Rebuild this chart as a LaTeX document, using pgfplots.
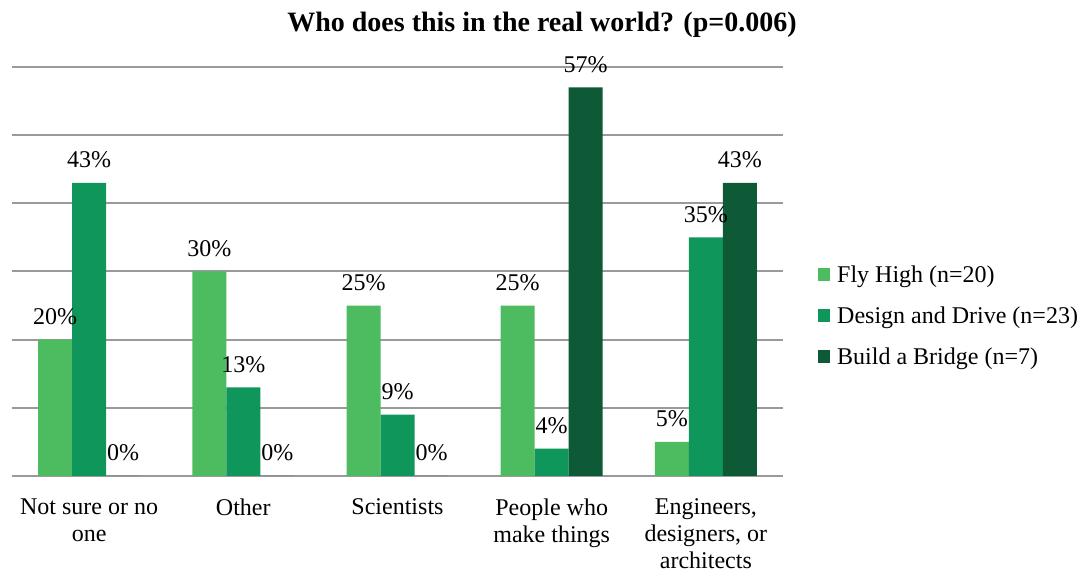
\documentclass[border=0pt]{standalone}
\usepackage{pgfplots}
\pgfplotsset{compat=1.18}
\usepackage{fontspec}
\setmainfont{Liberation Serif}
\definecolor{flyhigh}{HTML}{4DBB5F}
\definecolor{design}{HTML}{0F965A}
\definecolor{bridge}{HTML}{0E5A37}
\definecolor{gridgray}{HTML}{9A9A9A}
\begin{document}
\begin{tikzpicture}[x=1pt,y=1pt]
\path[use as bounding box] (0,0) rectangle (1080,572);
\node[anchor=base,font=\fontsize{28}{32}\selectfont\bfseries] at (542,540) {Who does this in the real world? (p=0.006)};
\begin{axis}[
  at={(12pt,96pt)}, anchor=south west,
  scale only axis, width=771pt, height=409pt,
  ybar=0pt, bar width=34pt,
  xmin=-0.5, xmax=4.5, ymin=0, ymax=60,
  xtick={0,1,2,3,4},
  xticklabels={{Not sure or no\\one},{Other},{Scientists},{People who\\make things},{Engineers,\\designers, or\\architects}},
  xticklabel style={align=center, anchor=north, font=\fontsize{24}{27}\selectfont, yshift=-19pt},
  ytick={0,10,...,60}, yticklabels={},
  ymajorgrids, grid style={gridgray, line width=2pt},
  major tick length=0pt,
  axis line style={draw=none},
  /pgf/number format/assume math mode=true,
  nodes near coords={\pgfmathprintnumber{\pgfplotspointmeta}\%},
  every node near coord/.append style={font=\fontsize{24}{28}\selectfont, anchor=base, yshift=15pt, text=black},
  legend style={at={(1.0415,0.391)}, anchor=west, draw=none, fill=none,
    font=\fontsize{24}{28}\selectfont, row sep=19pt},
  legend cell align=left,
  legend image code/.code={\fill[#1] (0pt,-6pt) rectangle (12pt,7pt); \path (17pt,0pt);},
]
\addplot[fill=flyhigh, draw=none] coordinates {(0,20) (1,30) (2,25) (3,25) (4,5)};
\addplot[fill=design, draw=none] coordinates {(0,43) (1,13) (2,9) (3,4) (4,35)};
\addplot[fill=bridge, draw=none] coordinates {(0,0) (1,0) (2,0) (3,57) (4,43)};
\legend{Fly High (n=20), Design and Drive (n=23), Build a Bridge (n=7)}
\end{axis}
\end{tikzpicture}
\end{document}
